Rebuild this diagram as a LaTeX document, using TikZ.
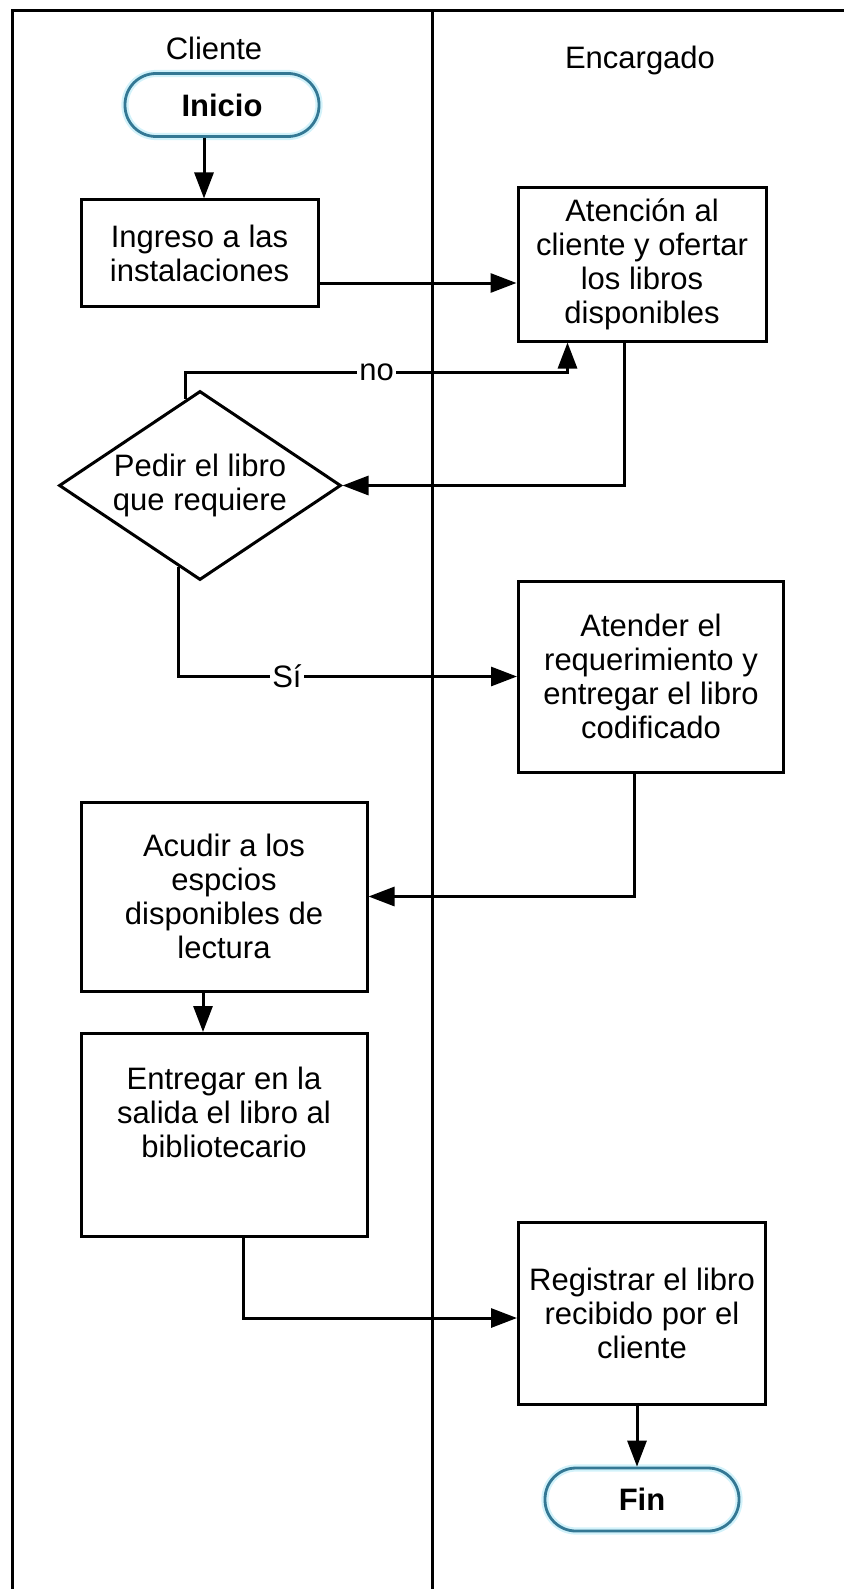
\documentclass[tikz,border=0pt]{standalone}
\usepackage{fontspec}
\setmainfont{Liberation Sans}
\usetikzlibrary{shapes.geometric, arrows.meta, positioning, calc}
\definecolor{cTeal}{RGB}{52,120,148}
\definecolor{cGlow}{RGB}{210,242,250}
\tikzset{
	startstop/.style={rectangle, rounded corners=15.5pt, minimum width=97pt, minimum height=31.5pt, text centered, draw=cTeal, line width=1.4pt, font=\fontsize{15.5}{17}\selectfont\bfseries, preaction={draw=cGlow, line width=3.6pt}},
	process/.style  ={rectangle, draw=black, line width=1.5pt, align=center, inner sep=0pt},
	decision/.style ={diamond, aspect=1.5, draw=black, line width=1.5pt, align=center, inner sep=0pt},
	flowarrow/.style={-{Triangle[length=13pt, width=9.5pt]}, line width=1.5pt},
	lane/.style     ={line width=1.5pt},
	lbl/.style      ={fill=white, inner sep=1pt},
}
\begin{document}
\begin{tikzpicture}[x=0.5pt, y=-0.5pt, font=\fontsize{15.5}{17}\selectfont]
	\useasboundingbox (0,0) rectangle (844,1589);
	% swimlanes
	\draw[lane] (12,1589) -- (12,11) -- (844,11);
	\draw[lane] (432,11) -- (432,1589);
	\node (cli) at (214,48) {Cliente};
	\node (enc) at (640,60) {Encargado};
	% steps
	\node[startstop] (ini) at (222,105) {Inicio};
	\node[process, minimum width=118.5pt, minimum height=53pt] (ing) at (199.5,253) {Ingreso a las\\instalaciones};
	\node[process, minimum width=124pt, minimum height=76.5pt] (at) at (642,264.5) {Atención al\\cliente y ofertar\\los libros\\disponibles};
	\node[decision, minimum width=141pt, minimum height=94.5pt] (dia) at (200,485.5) {Pedir el libro\\que requiere};
	\node[process, minimum width=132.5pt, minimum height=95.5pt] (atd) at (651,676.5) {Atender el\\requerimiento y\\entregar el libro\\codificado};
	\node[process, minimum width=143pt, minimum height=94.5pt] (acu) at (224,896.5) {Acudir a los\\espcios\\disponibles de\\lectura};
	\node[process, minimum width=143pt, minimum height=101.5pt] (ent) at (224,1135) {};
	\node[align=center] (enttxt) at (224,1112) {Entregar en la\\salida el libro al\\bibliotecario};
	\node[process, minimum width=123.5pt, minimum height=91pt] (reg) at (642,1313) {Registrar el libro\\recibido por el\\cliente};
	\node[startstop] (fin) at (642,1499.5) {Fin};
	% connectors
	\coordinate (iniout) at ($(ini.south)+(-18,0)$);
	\draw[flowarrow] (iniout) -- (iniout |- ing.north);
	\coordinate (ingout) at ($(ing.east)+(0,30)$);
	\draw[flowarrow] (ingout) -- (ingout -| at.west);
	\coordinate (noin) at ($(at.south west)+(51,0)$);
	\draw[flowarrow] ($(dia.north)!0.1!(dia.west)$) |- node[lbl, pos=0.75] {no} ($(noin)+(0,30)$) -- (noin);
	\draw[flowarrow] ($(at.south west)+(108,0)$) |- (dia.east);
	\draw[flowarrow] ($(dia.south)!0.15!(dia.west)$) |- node[lbl, pos=0.66] {Sí} (atd.west);
	\draw[flowarrow] ($(atd.south west)+(117,0)$) |- (acu.east);
	\coordinate (acuout) at ($(acu.south)+(-21,0)$);
	\draw[flowarrow] (acuout) -- (acuout |- ent.north);
	\draw[flowarrow] ($(ent.south west)+(164,0)$) |- ($(reg.west)+(0,5)$);
	\coordinate (regout) at ($(reg.south)+(-5,0)$);
	\draw[flowarrow] (regout) -- (regout |- fin.north);
\end{tikzpicture}
\end{document}
